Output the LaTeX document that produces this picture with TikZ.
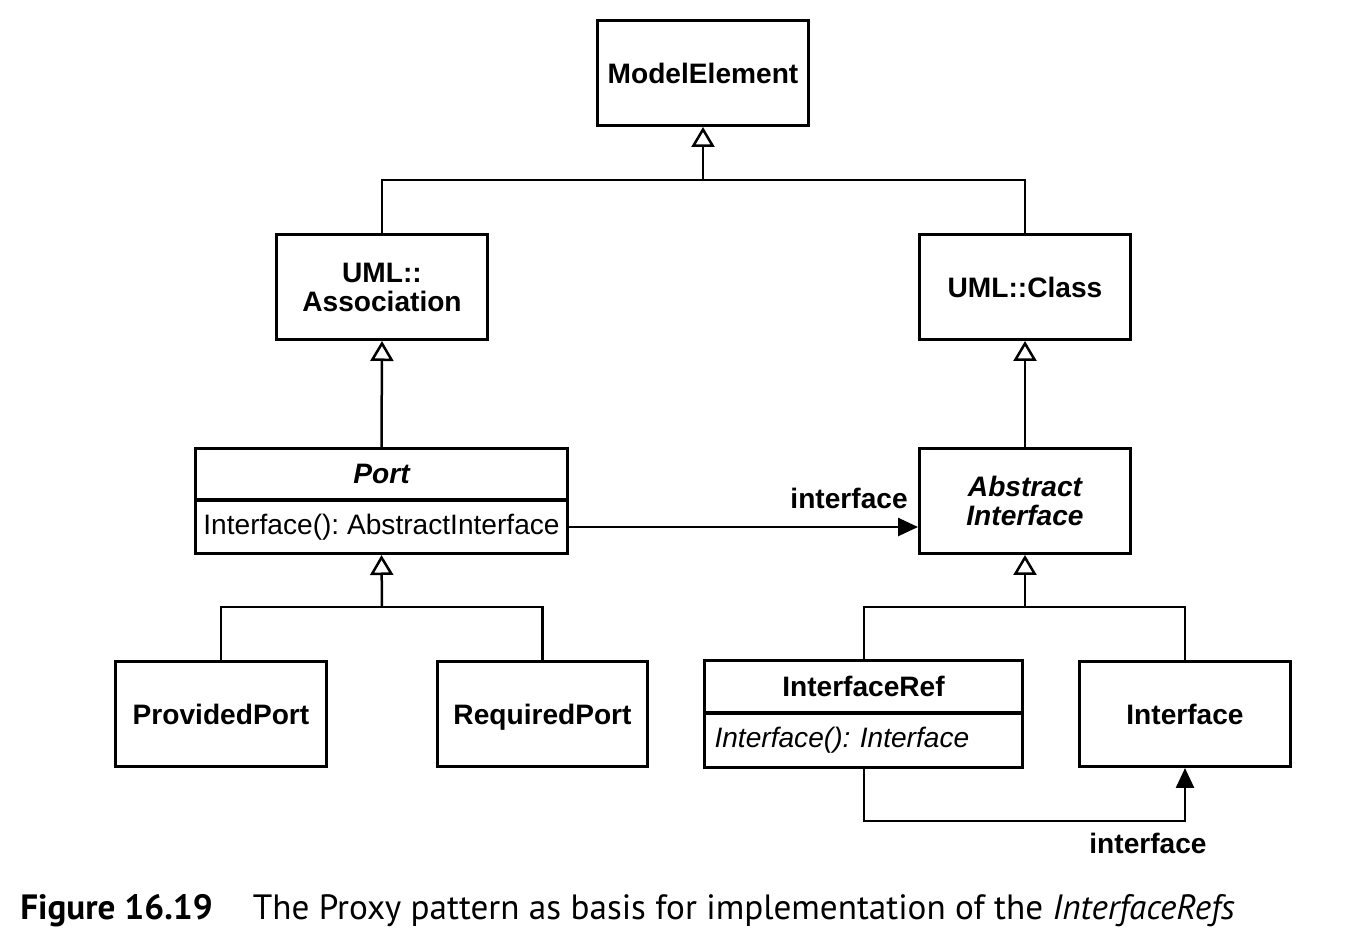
\documentclass[tikz,border=0pt]{standalone}
\usepackage{fontspec}
\setmainfont{Liberation Sans}
\newfontfamily\capfont{PT Sans}
\usetikzlibrary{arrows.meta}
\frenchspacing
\tikzset{
	box/.style={draw, line width=0.06cm, minimum width=4.22cm, minimum height=2.1cm, inner sep=0pt, text depth=0pt, align=center, font=\fontsize{16}{16.5}\selectfont\bfseries},
	part/.style={draw, line width=0.06cm, minimum height=#1, inner sep=0pt, font=\fontsize{16}{16.5}\selectfont},
	conn/.style={line width=0.05cm},
	gen/.style={conn, -{Triangle[open, length=0.4cm, width=0.46cm, fill=white]}},
	nav/.style={conn, -{Triangle[length=0.4cm, width=0.36cm]}},
	role/.style={font=\fontsize{16}{16.5}\selectfont\bfseries, inner sep=0pt}
}
\begin{document}
\begin{tikzpicture}[x=0.02cm,y=-0.02cm]
		\useasboundingbox (0,0) rectangle (1368,946);
		% classes
		\node[box] (me) at (703,73) {ModelElement};
		\node[box] (assoc) at (382,287) {UML::\\Association};
		\node[box] (umlclass) at (1025,287) {UML::Class};
		\node[part=1.02cm, minimum width=7.44cm, font=\fontsize{16}{16.5}\selectfont\bfseries\itshape] (port) at (381.5,474) {Port};
		\node[part=1.06cm, minimum width=7.44cm] (portop) at (381.5,527) {Interface(): AbstractInterface};
		\node[box, font=\fontsize{16}{16.5}\selectfont\bfseries\itshape] (absint) at (1025,501) {Abstract\\Interface};
		\node[box] (provided) at (221,714) {ProvidedPort};
		\node[box] (required) at (542.5,714) {RequiredPort};
		\node[part=1.04cm, minimum width=6.36cm, font=\fontsize{16}{16.5}\selectfont\bfseries] (iref) at (863.5,686.5) {InterfaceRef};
		\node[part=1.08cm, minimum width=6.36cm, text width=5.96cm, font=\fontsize{16}{16.5}\selectfont\itshape] (irefop) at (863.5,740.5) {Interface(): Interface};
		\node[box] (iface) at (1185,714) {Interface};
		% generalisations
		\coordinate (mebus) at (703,180);
		\coordinate (portbus) at (382,607);
		\coordinate (absbus) at (1025,607);
		\draw[conn] (assoc.north) |- (mebus) -| (umlclass.north);
		\draw[gen] (mebus) -- (me.south);
		\draw[gen] (port.north) -- (assoc.south);
		\draw[gen] (absint.north) -- (umlclass.south);
		\draw[conn] (provided.north) |- (portbus) -| (required.north);
		\draw[gen] (portbus) -- (portop.south);
		\draw[conn] (iref.north -| 864,0) |- (absbus) -| (iface.north);
		\draw[gen] (absbus) -- (absint.south);
		% associations
		\draw[nav] (portop.east) -- (absint.west |- portop.east);
		\node[role, anchor=east] (lbl1) at (908,498) {interface};
		\draw[nav] (irefop.south -| 864,0) |- (1185,821) -- (iface.south);
		\node[role] (lbl2) at (1148,843) {interface};
		% caption
		\node[anchor=base west, inner sep=0pt, font=\capfont\fontsize{20}{23}\selectfont] (cap) at (20,919) {\textbf{Figure 16.19}\hspace{0.8cm}The Proxy pattern as basis for implementation of the \textit{InterfaceRefs}};
\end{tikzpicture}
\end{document}
